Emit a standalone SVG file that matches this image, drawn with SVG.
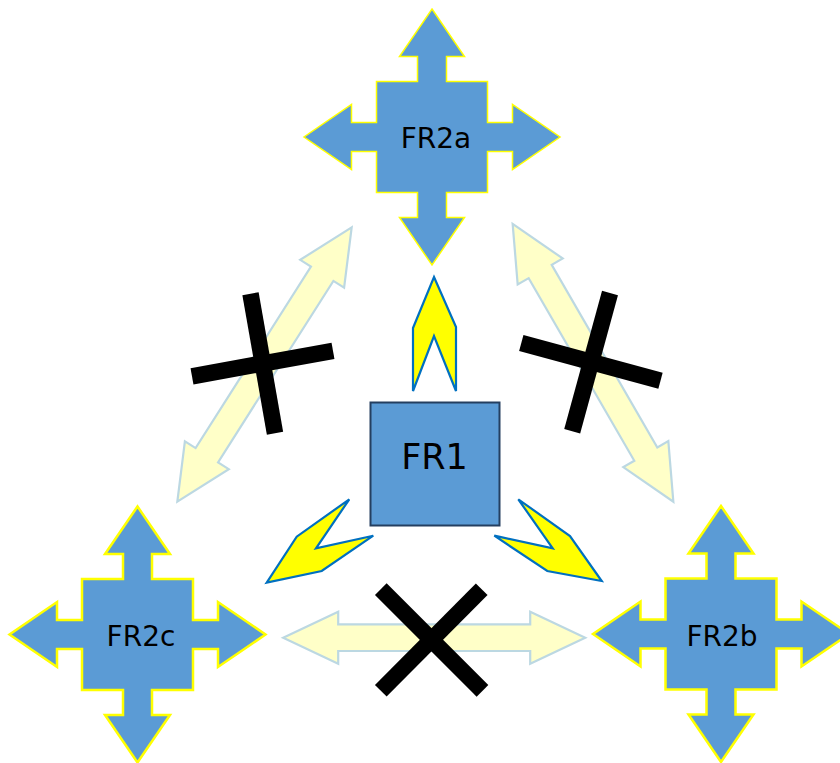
<svg xmlns="http://www.w3.org/2000/svg" width="840" height="763" viewBox="0 0 840 763">
<style>
.star{fill:#5B9BD5;stroke:#FFFF00;stroke-linejoin:miter}
.lbl{font-family:"DejaVu Sans","Verdana",sans-serif;fill:#000;text-anchor:middle}
.dbl{fill:#FFFFC8;stroke:#BCD8E2;stroke-width:2.2;stroke-linejoin:miter}
.chev{fill:#FFFF00;stroke:#0070C0;stroke-width:2.2;stroke-linejoin:miter}
.x{stroke:#000;stroke-width:16.5;stroke-linecap:butt}
</style>
<defs>
<path id="quad" d="M0,-128 L32.5,-80.5 L14.5,-80.5 L14.5,-55.5 L55.5,-55.5 L55.5,-14.5 L80.5,-14.5 L80.5,-32.5 L128,0 L80.5,32.5 L80.5,14.5 L55.5,14.5 L55.5,55.5 L14.5,55.5 L14.5,80.5 L32.5,80.5 L0,128 L-32.5,80.5 L-14.5,80.5 L-14.5,55.5 L-55.5,55.5 L-55.5,14.5 L-80.5,14.5 L-80.5,32.5 L-128,0 L-80.5,-32.5 L-80.5,-14.5 L-55.5,-14.5 L-55.5,-55.5 L-14.5,-55.5 L-14.5,-80.5 L-32.5,-80.5 Z"/>
</defs>
<g id="connectors">
<path class="dbl" transform="translate(434.2,637.7)" d="M-151,0 L-96,-26 L-96,-13.3 L96,-13.3 L96,-26 L151,0 L96,26 L96,13.3 L-96,13.3 L-96,26 Z"/>
<path class="dbl" transform="translate(264.5,364.5) rotate(-57.56)" d="M-162.5,0 L-107.5,-26 L-107.5,-13.3 L107.5,-13.3 L107.5,-26 L162.5,0 L107.5,26 L107.5,13.3 L-107.5,13.3 L-107.5,26 Z"/>
<path class="dbl" transform="translate(593,362.8) rotate(59.96)" d="M-160.5,0 L-105.5,-26 L-105.5,-13.3 L105.5,-13.3 L105.5,-26 L160.5,0 L105.5,26 L105.5,13.3 L-105.5,13.3 L-105.5,26 Z"/>
<polygon class="chev" points="434,277 456,327 456,391 434,336 413,391 413,328"/>
<polygon class="chev" points="349.3,499.3 296.7,536.7 266.7,582.7 321.7,571 373.3,535.7 316,548.3"/>
<polygon class="chev" points="518.3,499.3 570,536 601.7,581 547.3,571 494.3,535.7 552.7,548.3"/>
</g>
<g id="crosses">
<line class="x" x1="250.5" y1="293.7" x2="275" y2="433.3"/>
<line class="x" x1="192" y1="376.3" x2="333" y2="350.8"/>
<line class="x" x1="610" y1="293" x2="572.2" y2="431.3"/>
<line class="x" x1="521.3" y1="343" x2="660.5" y2="380.8"/>
<line class="x" x1="380.8" y1="589.2" x2="482.5" y2="690.8"/>
<line class="x" x1="481.7" y1="589.2" x2="380.8" y2="690.8"/>
</g>
<g id="FR2a">
<use href="#quad" class="star" style="stroke-width:1.5" transform="translate(432,137)"/>
<text class="lbl" x="436" y="148" font-size="28">FR2a</text>
</g>
<g id="FR2c">
<use href="#quad" class="star" style="stroke-width:2.5" transform="translate(137.5,634.5)"/>
<text class="lbl" x="141" y="645.5" font-size="28">FR2c</text>
</g>
<g id="FR2b">
<use href="#quad" class="star" style="stroke-width:2.5" transform="translate(721,634)"/>
<text class="lbl" x="722" y="645.5" font-size="28">FR2b</text>
</g>
<g id="FR1">
<rect x="370.5" y="402.5" width="129" height="123" fill="#5B9BD5" stroke="#243F60" stroke-width="2"/>
<text class="lbl" x="434.5" y="469" font-size="35">FR1</text>
</g>
</svg>
